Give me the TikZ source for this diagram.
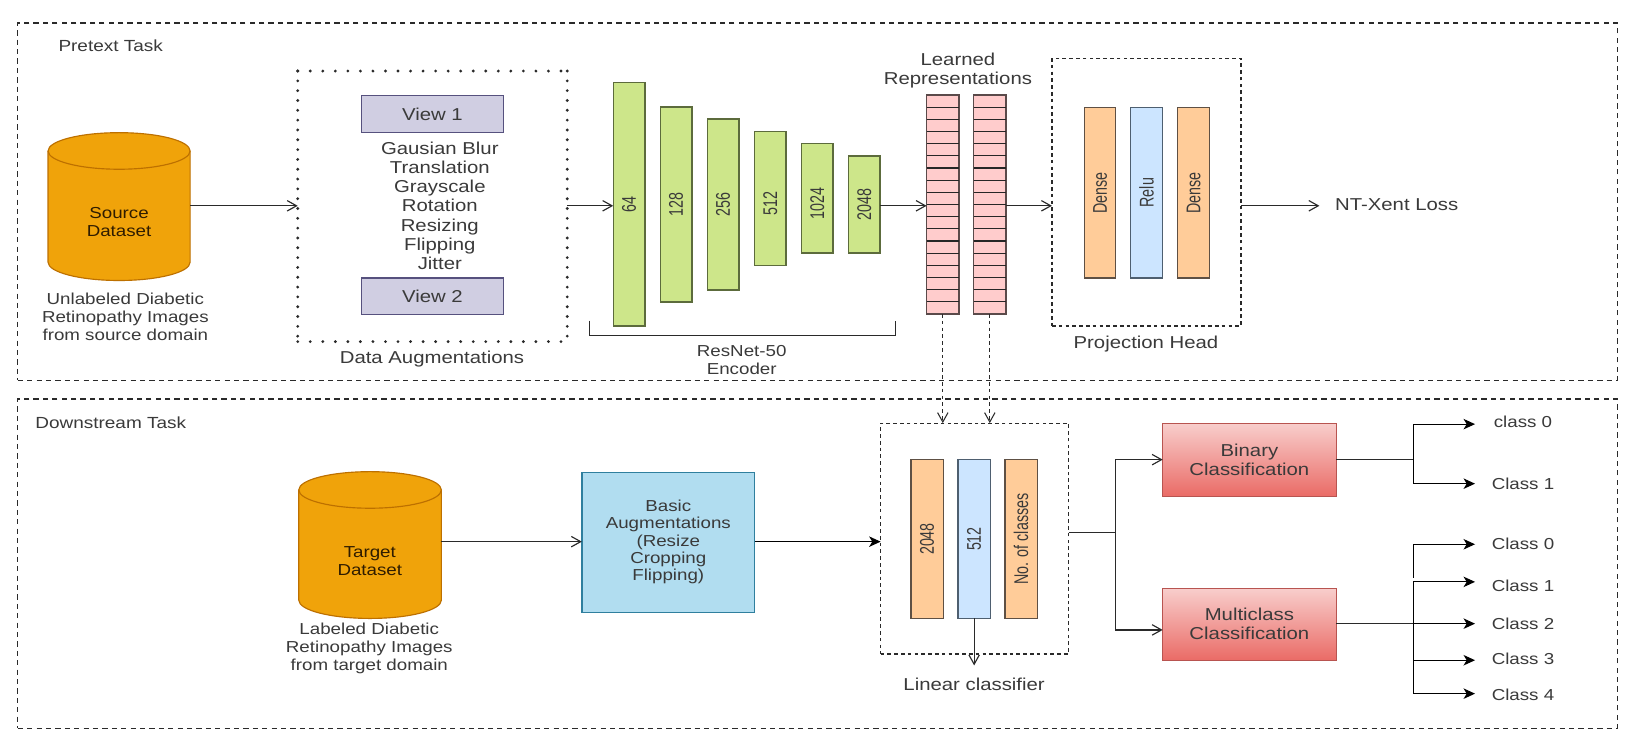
\documentclass[tikz,border=0pt]{standalone}
\usepackage{fontspec}
\setmainfont[FakeStretch=1.18]{Liberation Sans}
\newfontfamily\narrowfont[FakeStretch=.72]{Liberation Sans}
\usetikzlibrary{arrows.meta}
\definecolor{ink}{HTML}{3A3A3A}
\definecolor{wire}{HTML}{2A2A2A}
\definecolor{dbfill}{HTML}{F0A30A}\definecolor{dbline}{HTML}{BD7000}
\definecolor{viewfill}{HTML}{D0CEE2}\definecolor{viewline}{HTML}{56517E}
\definecolor{greenfill}{HTML}{CDE68A}\definecolor{greenline}{HTML}{5C6B3C}
\definecolor{orangefill}{HTML}{FFCC99}\definecolor{orangeline}{HTML}{5E5044}
\definecolor{bluefill}{HTML}{CCE5FF}\definecolor{blueline}{HTML}{4E5F70}
\definecolor{pinkfill}{HTML}{FFCCCC}\definecolor{pinkline}{HTML}{5A4A4A}
\definecolor{augfill}{HTML}{B1DDF0}\definecolor{augline}{HTML}{2F7F9E}
\definecolor{redline}{HTML}{B85450}\definecolor{redtop}{HTML}{F8CECC}\definecolor{redbottom}{HTML}{EA6B66}
\tikzset{
  every node/.style={inner sep=0pt,outer sep=0pt,text=ink,font=\fontsize{16.5}{18.4}\selectfont,align=center},
  smalltext/.style={font=\fontsize{15.2}{17}\selectfont},
  barbarrow/.style={-{Straight Barb[length=9pt,width=10pt]},wire,line width=1.1pt},
  solidarrow/.style={-{Stealth[length=11pt,width=10pt,inset=3pt]},black,line width=1.1pt},
  wireline/.style={wire,line width=1.1pt},
  dashedarrow/.style={-{Straight Barb[length=9pt,width=10pt]},wire,line width=1pt,dash pattern=on 3.5pt off 3pt},
  panel/.style={draw=wire,line width=1.1pt,dash pattern=on 5pt off 4pt},
  groupdash/.style={draw=wire,line width=1.1pt,dash pattern=on 3.5pt off 3pt},
  dotsh/.style={draw=wire,line width=3pt,line cap=round,dash pattern=on 0pt off 12pt},
  dotsv/.style={draw=wire,line width=3pt,line cap=round,dash pattern=on 0pt off 9.4pt},
  dbshape/.style={draw=dbline,fill=dbfill,line width=1.1pt},
  viewbox/.style={draw=viewline,fill=viewfill,line width=1.2pt},
  greenbar/.style={draw=greenline,fill=greenfill,line width=1.2pt},
  orangebar/.style={draw=orangeline,fill=orangefill,line width=1.2pt},
  bluebar/.style={draw=blueline,fill=bluefill,line width=1.2pt},
  pinkbar/.style={draw=pinkline,fill=pinkfill,line width=1.2pt},
  cellline/.style={draw=black!85,line width=1.1pt},
  augbox/.style={draw=augline,fill=augfill,line width=1.2pt,font=\fontsize{15.2}{16.6}\selectfont},
  classbox/.style={draw=redline,top color=redtop,bottom color=redbottom,line width=1.1pt},
  plainbox/.style={}
}
% \bx{style}{name}{x1}{y1}{x2}{y2}{text}
\newcommand{\bx}[7]{%
  \pgfmathsetmacro{\cxx}{(#3+#5)/2}\pgfmathsetmacro{\cyy}{(#4+#6)/2}%
  \pgfmathsetmacro{\wdd}{#5-#3}\pgfmathsetmacro{\htt}{#6-#4}%
  \node[#1,minimum width=\wdd pt,minimum height=\htt pt] (#2) at (\cxx,\cyy) {#7};}
\newcommand{\vtext}[1]{\rotatebox{90}{\narrowfont\fontsize{19}{19}\selectfont #1}}
% \dbcyl{name}{x1}{y1}{x2}{y2}
\newcommand{\dbcyl}[5]{%
  \pgfmathsetmacro{\rxx}{(#4-#2)/2}%
  \draw[dbshape] (#2,#3+17.5) -- (#2,#5-17.5) arc[start angle=180,end angle=360,x radius=\rxx pt,y radius=17.5pt]
     -- (#4,#3+17.5) arc[start angle=0,end angle=180,x radius=\rxx pt,y radius=17.5pt] -- cycle;
  \draw[dbline,line width=1.1pt] (#2,#3+17.5) arc[start angle=180,end angle=360,x radius=\rxx pt,y radius=17.5pt];
  \bx{plainbox}{#1}{#2}{#3}{#4}{#5}{}}
\begin{document}
\begin{tikzpicture}[x=1pt,y=-1pt]
\useasboundingbox (0,0) rectangle (1568,720);
\fill[white] (0,0) rectangle (1568,720);
% panels
\bx{panel}{pretext}{17}{22}{1548}{364}{}
\bx{panel}{downstream}{17}{382}{1548}{697}{}
\node[font=\fontsize{15.4}{17}\selectfont] (pretextlabel) at (106,44) {Pretext Task};
\node[font=\fontsize{15.4}{17}\selectfont] (downlabel) at (106,405) {Downstream Task};
% source
\dbcyl{source}{46}{127}{182}{268.5}
\node[text=black!75!dbline,smalltext] (sourcetext) at (114,212.5) {Source\\Dataset};
\node[smalltext] (sourcecap) at (120,303.5) {Unlabeled Diabetic\\Retinopathy Images\\from source domain};
% augmentations
\bx{plainbox}{dataaug}{285}{68}{543}{327}{}
\draw[dotsh] (dataaug.north west) -- (dataaug.north east);
\draw[dotsh] (dataaug.south west) -- (dataaug.south east);
\draw[dotsv] (dataaug.north west) -- (dataaug.south west);
\draw[dotsv] (dataaug.north east) -- (dataaug.south east);
\bx{viewbox}{view1}{346}{91.5}{482}{127}{View 1}
\bx{viewbox}{view2}{346}{266}{482}{301}{View 2}
\node (auglist) at (421,197) {Gausian Blur\\Translation\\Grayscale\\Rotation\\Resizing\\Flipping\\Jitter};
\node (auglabel) at (413.5,344) {Data Augmentations};
% encoder
\bx{greenbar}{e1}{587}{79}{617.5}{312}{\vtext{64}}
\bx{greenbar}{e2}{632}{102.5}{662.5}{289}{\vtext{128}}
\bx{greenbar}{e3}{677}{114}{707.5}{277.5}{\vtext{256}}
\bx{greenbar}{e4}{722}{126}{752.5}{254}{}
\bx{greenbar}{e5}{767}{137.5}{797.5}{242.3}{}
\bx{greenbar}{e6}{812}{149.3}{842.5}{242.3}{\vtext{2048}}
\node (e4text) at (737.3,195) {\vtext{512}};
\node (e5text) at (782.3,195) {\vtext{1024}};
\coordinate (bl) at (564,307);\coordinate (br) at (857.5,307);
\draw[wireline] (bl) -- ++(0,14) -| (br);
\node[smalltext] (enclabel) at (710,344.5) {ResNet-50\\Encoder};
% learned representations
\bx{pinkbar}{ra}{887}{91}{918}{300.6}{}
\bx{pinkbar}{rb}{932}{91}{963}{300.6}{}
\foreach \i in {1,...,17}{
  \pgfmathsetmacro{\yy}{91+\i*11.644}
  \draw[cellline] (ra.west |- 0,\yy) -- (ra.east |- 0,\yy);
  \draw[cellline] (rb.west |- 0,\yy) -- (rb.east |- 0,\yy);
}
\node (reptext) at (917,67.7) {Learned\\Representations};
% projection
\bx{groupdash}{proj}{1007}{56}{1188}{312}{}
\bx{orangebar}{d1}{1038}{103}{1068}{266}{\vtext{Dense}}
\bx{bluebar}{d2}{1082}{103}{1113}{266}{\vtext{Relu}}
\bx{orangebar}{d3}{1127}{103}{1158}{266}{\vtext{Dense}}
\node (projlabel) at (1097,329) {Projection Head};
\coordinate (lossend) at (1263,197);
\node (loss) at (1337,196) {NT-Xent Loss};
% downstream
\dbcyl{target}{286}{451.5}{422.5}{592}
\node[text=black!75!dbline,smalltext] (targettext) at (354,537) {Target\\Dataset};
\node[smalltext] (targetcap) at (353.5,620.5) {Labeled Diabetic\\Retinopathy Images\\from target domain};
\bx{augbox}{basic}{557}{452}{722.5}{586}{Basic\\Augmentations\\(Resize\\Cropping\\Flipping)}
\bx{groupdash}{linear}{843}{405}{1023}{626}{}
\bx{orangebar}{l1}{872}{440}{903}{592}{\vtext{2048}}
\bx{bluebar}{l2}{917}{440}{948}{592}{\vtext{512}}
\bx{orangebar}{l3}{962}{440}{993}{592}{\vtext{No. of classes}}
\node (linearlabel) at (932.5,655) {Linear classifier};
\coordinate (linearout) at (932.5,637);
\bx{classbox}{binary}{1113}{405}{1279}{475}{Binary\\Classification}
\bx{classbox}{multi}{1113}{563}{1279}{632}{Multiclass\\Classification}
\node[anchor=west,smalltext] (b0) at (1430,404) {class 0};
\node[anchor=west,smalltext] (b1) at (1428,463) {Class 1};
\node[anchor=west,smalltext] (m0) at (1428,521) {Class 0};
\node[anchor=west,smalltext] (m1) at (1428,561) {Class 1};
\node[anchor=west,smalltext] (m2) at (1428,597) {Class 2};
\node[anchor=west,smalltext] (m3) at (1428,631) {Class 3};
\node[anchor=west,smalltext] (m4) at (1428,665) {Class 4};
% connectors
\draw[barbarrow] (source.east |- 0,197) -- (dataaug.west |- 0,197);
\draw[barbarrow] (dataaug.east |- 0,197) -- (e1.west |- 0,197);
\draw[barbarrow] (e6.east |- 0,197) -- (ra.west |- 0,197);
\draw[barbarrow] (rb.east |- 0,197) -- (proj.west |- 0,197);
\draw[barbarrow] (proj.east |- 0,197) -- (lossend);
\draw[dashedarrow] (ra.south) -- (ra.south |- linear.north);
\draw[dashedarrow] (rb.south) -- (rb.south |- linear.north);
\draw[barbarrow] (target.east |- 0,518.5) -- (basic.west |- 0,518.5);
\draw[solidarrow] (basic.east |- 0,518.5) -- (linear.west |- 0,518.5);
\draw[barbarrow] (l2.south) -- (linearout);
\coordinate (fork) at (1068,510);
\draw[wireline] (linear.east |- fork) -- (fork);
\draw[barbarrow] (fork) |- (binary.west);
\draw[barbarrow] (fork) |- (multi.west |- 0,603);
\coordinate (bfork) at (1353,440);
\coordinate (mfork) at (1353,597);
\draw[wireline] (binary.east |- bfork) -- (bfork);
\draw[solidarrow] (bfork) |- (1412,406);
\draw[solidarrow] (bfork) |- (1412,463);
\draw[wireline] (multi.east |- mfork) -- (mfork);
\draw[solidarrow] (1353,553) |- (1412,521);
\draw[solidarrow] (mfork) |- (1412,557);
\draw[solidarrow] (mfork) -- (1412,597);
\draw[solidarrow] (mfork) |- (1412,632);
\draw[solidarrow] (mfork) |- (1412,664);
\end{tikzpicture}
\end{document}
